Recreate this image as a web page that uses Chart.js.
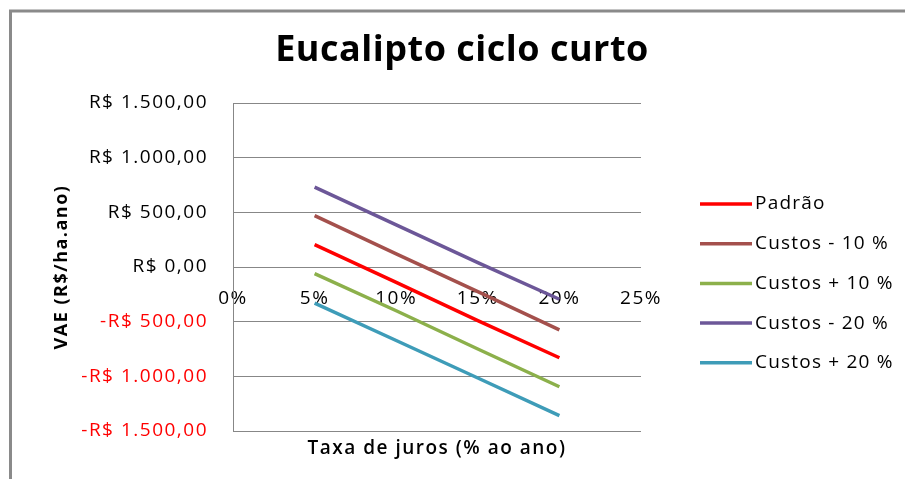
<!DOCTYPE html>
<html lang="pt-BR">
<head>
<meta charset="utf-8">
<title>Eucalipto ciclo curto</title>
<script src="https://cdn.jsdelivr.net/npm/chart.js@4/dist/chart.umd.min.js"></script>
<style>
    html, body { margin: 0; padding: 0; background: #ffffff; }
    #wrap { width: 905px; height: 479px; }
</style>
</head>
<body>
<div id="wrap"><canvas id="vaeChart" width="905" height="479"></canvas></div>
<script>
// Taxa de juros (% ao ano) on the x axis
const rates = [5, 10, 15, 20];

// VAE (R$/ha.ano) for each cost scenario
const padrao = [205, -140, -490, -830];
const custosMenos10 = [470, 120, -225, -575];
const custosMais10 = [-60, -400, -750, -1095];
const custosMenos20 = [730, 385, 40, -295];
const custosMais20 = [-330, -672, -1015, -1360];

const seriesLabels = ['Padrão', 'Custos - 10 %', 'Custos + 10 %', 'Custos - 20 %', 'Custos + 20 %'];
const seriesColors = ['#ff0000', '#a4504c', '#8cb04b', '#6c5798', '#3e9cb8'];

// Axis ticks
const xTicks = [0, 5, 10, 15, 20, 25];
const yTicks = [-1500, -1000, -500, 0, 500, 1000, 1500];

const FONT = '"Open Sans", Lato, sans-serif';
const GRID = '#878787';

// "R$ 1.500,00" style labels, negatives as "-R$ 500,00"
function formatReais(v) {
    const intPart = String(Math.abs(v)).replace(/\B(?=(\d{3})+(?!\d))/g, '.');
    return (v < 0 ? '-' : '') + 'R$ ' + intPart + ',00';
}

function toPoints(values) {
    return rates.map((r, i) => ({ x: r, y: values[i] }));
}

// Frame, title and legend are painted around the plot
const decorPlugin = {
    id: 'decor',
    beforeDraw(chart) {
        const ctx = chart.ctx;
        // slightly looser text for all axis labels
        ctx.letterSpacing = '1.5px';
        ctx.save();
        ctx.strokeStyle = '#8a8a8a';
        ctx.lineWidth = 3;
        ctx.beginPath();
        ctx.moveTo(10.5, chart.height);
        ctx.lineTo(10.5, 11);
        ctx.lineTo(chart.width, 11);
        ctx.stroke();
        ctx.restore();
    },
    afterDraw(chart) {
        const ctx = chart.ctx;
        ctx.save();
        ctx.fillStyle = '#000000';
        ctx.textAlign = 'center';
        ctx.textBaseline = 'middle';
        ctx.letterSpacing = '0.5px';
        ctx.font = 'bold 36px ' + FONT;
        ctx.fillText('Eucalipto ciclo curto', 462, 51);

        // legend
        ctx.letterSpacing = '1.2px';
        ctx.font = '19px ' + FONT;
        ctx.textAlign = 'left';
        chart.data.datasets.forEach((ds, i) => {
            const y = 204 + i * 39.7;
            ctx.strokeStyle = ds.borderColor;
            ctx.lineWidth = 3.5;
            ctx.beginPath();
            ctx.moveTo(700, y);
            ctx.lineTo(752, y);
            ctx.stroke();
            ctx.fillText(ds.label, 755, y);
        });
        ctx.restore();
    }
};

const datasets = [padrao, custosMenos10, custosMais10, custosMenos20, custosMais20].map((values, i) => ({
    label: seriesLabels[i],
    data: toPoints(values),
    borderColor: seriesColors[i],
    backgroundColor: seriesColors[i],
    borderWidth: 3.5,
    pointRadius: 0,
    tension: 0,
    fill: false
}));

const chart = new Chart(document.getElementById('vaeChart'), {
    type: 'line',
    data: { datasets: datasets },
    options: {
        responsive: false,
        animation: false,
        devicePixelRatio: 1,
        layout: { padding: { left: 18, right: 264, top: 103, bottom: 0 } },
        plugins: {
            legend: { display: false },
            title: { display: false },
            tooltip: { enabled: false }
        },
        scales: {
            x: {
                type: 'linear',
                position: { y: 0 },
                min: 0,
                max: 25,
                grid: { display: false, drawTicks: false },
                border: { display: false },
                afterBuildTicks: (scale) => { scale.ticks = xTicks.map(v => ({ value: v })); },
                ticks: {
                    padding: 20,
                    color: '#000000',
                    font: { family: FONT, size: 19 },
                    callback: (v) => v + '%'
                }
            },
            x2: {
                type: 'linear',
                position: 'bottom',
                axis: 'x',
                min: 0,
                max: 25,
                grid: { display: false, drawTicks: false },
                border: { display: false },
                ticks: { display: false },
                afterFit: (scale) => { scale.height = 48; },
                title: {
                    display: true,
                    text: 'Taxa de juros (% ao ano)',
                    color: '#000000',
                    font: { family: FONT, size: 19, weight: '600' },
                    padding: { top: 0, bottom: 19 }
                }
            },
            y: {
                type: 'linear',
                min: -1500,
                max: 1500,
                afterBuildTicks: (scale) => { scale.ticks = yTicks.map(v => ({ value: v })); },
                afterFit: (scale) => { scale.width = 215; },
                grid: { color: GRID, lineWidth: 1, drawTicks: false },
                border: { display: true, color: GRID, width: 1 },
                ticks: {
                    padding: 25,
                    font: { family: FONT, size: 19 },
                    color: (ctx) => (ctx.tick && ctx.tick.value < 0 ? '#ff0000' : '#000000'),
                    callback: (v) => formatReais(v)
                },
                title: {
                    display: true,
                    text: 'VAE (R$/ha.ano)',
                    color: '#000000',
                    font: { family: FONT, size: 18, weight: 'bold' },
                    padding: { top: 33, bottom: 0 }
                }
            }
        }
    },
    plugins: [decorPlugin]
});
</script>
</body>
</html>
